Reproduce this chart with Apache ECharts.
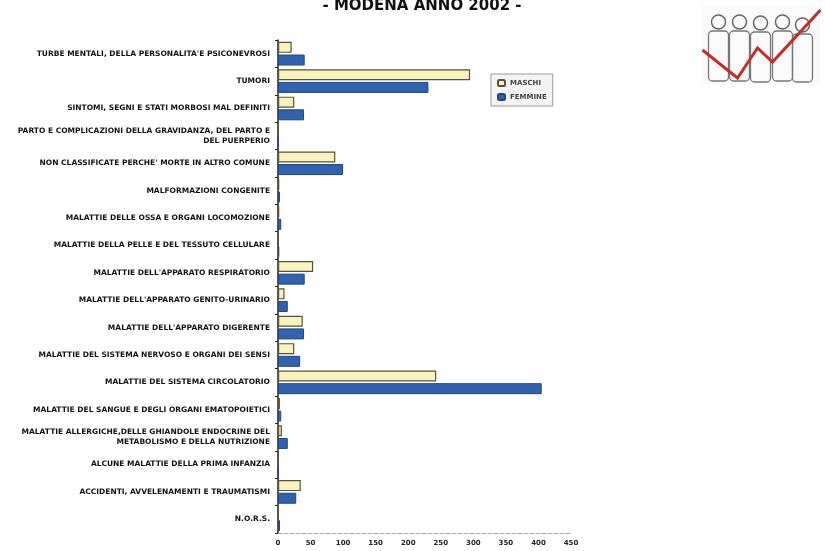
<!DOCTYPE html>
<html>
<head>
<meta charset="utf-8">
<script src="https://cdn.jsdelivr.net/npm/echarts@6/dist/echarts.min.js"></script>
<style>
  html, body { margin: 0; padding: 0; background: #fff; }
  #main { width: 825px; height: 551px; }
</style>
</head>
<body>
<div id="main"></div>
<script>
// categorie di causa (dall'alto verso il basso)
const categories = [
  "TURBE MENTALI, DELLA PERSONALITA'E PSICONEVROSI",
  "TUMORI",
  "SINTOMI, SEGNI E STATI MORBOSI MAL DEFINITI",
  "PARTO E COMPLICAZIONI DELLA GRAVIDANZA, DEL PARTO E\nDEL PUERPERIO",
  "NON CLASSIFICATE PERCHE' MORTE IN ALTRO COMUNE",
  "MALFORMAZIONI CONGENITE",
  "MALATTIE DELLE OSSA E ORGANI LOCOMOZIONE",
  "MALATTIE DELLA PELLE E DEL TESSUTO CELLULARE",
  "MALATTIE DELL'APPARATO RESPIRATORIO",
  "MALATTIE DELL'APPARATO GENITO-URINARIO",
  "MALATTIE DELL'APPARATO DIGERENTE",
  "MALATTIE DEL SISTEMA NERVOSO E ORGANI DEI SENSI",
  "MALATTIE DEL SISTEMA CIRCOLATORIO",
  "MALATTIE DEL SANGUE E DEGLI ORGANI EMATOPOIETICI",
  "MALATTIE ALLERGICHE,DELLE GHIANDOLE ENDOCRINE DEL\nMETABOLISMO E DELLA NUTRIZIONE",
  "ALCUNE MALATTIE DELLA PRIMA INFANZIA",
  "ACCIDENTI, AVVELENAMENTI E TRAUMATISMI",
  "N.O.R.S."
];
const maschi = [21, 295, 25, 0, 88, 2, 2, 1, 54, 10, 38, 25, 243, 3, 6, 1, 35, 1];
const femmine = [41, 231, 40, 0, 100, 3, 5, 2, 41, 15, 40, 34, 405, 5, 15, 1, 28, 3];
const xTicks = [0, 50, 100, 150, 200, 250, 300, 350, 400, 450];

const chart = echarts.init(document.getElementById("main"));
const option = {
  backgroundColor: "#fff",
  animation: false,
  title: {
    text: "- MODENA ANNO 2002 -",
    left: 417,
    top: -6,
    textAlign: "center",
    textStyle: { fontFamily: "DejaVu Sans", fontWeight: "bold", fontSize: 15, color: "#111" }
  },
  legend: {
    orient: "vertical",
    left: 491,
    top: 74,
    itemWidth: 7,
    itemHeight: 6,
    itemGap: 6,
    padding: [5, 6],
    borderColor: "#999",
    borderWidth: 1,
    backgroundColor: "#f4f4f4",
    textStyle: { fontSize: 7, fontWeight: "bold", color: "#444", fontFamily: "DejaVu Sans" },
    data: ["MASCHI", "FEMMINE"]
  },
  grid: { left: 278, right: 254, top: 40, bottom: 18 },
  xAxis: {
    type: "value",
    min: xTicks[0],
    max: xTicks[xTicks.length - 1],
    interval: 50,
    axisLine: { show: true, lineStyle: { color: "#aaa", type: "dashed" } },
    axisTick: { show: false },
    splitLine: { show: false },
    axisLabel: { fontSize: 7, fontWeight: "bold", color: "#222", margin: 7, fontFamily: "DejaVu Sans" }
  },
  yAxis: {
    type: "category",
    inverse: true,
    data: categories,
    axisLine: { show: true, lineStyle: { color: "#222", width: 1.5 } },
    axisTick: { show: true, length: 3, lineStyle: { color: "#222" } },
    axisLabel: {
      fontSize: 7.5,
      fontWeight: "bold",
      color: "#111",
      margin: 8,
      lineHeight: 10,
      align: "right",
      fontFamily: "DejaVu Sans"
    }
  },
  series: [
    {
      name: "MASCHI",
      type: "bar",
      data: maschi,
      barWidth: 11,
      barGap: "15%",
      itemStyle: { color: "#f7f3bf", borderColor: "#5a5236", borderWidth: 1.2 }
    },
    {
      name: "FEMMINE",
      type: "bar",
      data: femmine,
      barWidth: 11,
      barGap: "15%",
      itemStyle: { color: "#2f62b0", borderColor: "#24477a", borderWidth: 1 }
    }
  ],
  graphic: [
    {
      type: "group",
      left: 700,
      top: 6,
      children: [
        { type: "rect", shape: { x: 0, y: 0, width: 118, height: 78 }, style: { fill: "#fafafa" } },
        { type: "circle", shape: { cx: 16, cy: 16, r: 7 }, style: { fill: "none", stroke: "#666", lineWidth: 1.5 } },
        { type: "circle", shape: { cx: 37, cy: 16, r: 7 }, style: { fill: "none", stroke: "#666", lineWidth: 1.5 } },
        { type: "circle", shape: { cx: 58, cy: 17, r: 7 }, style: { fill: "none", stroke: "#666", lineWidth: 1.5 } },
        { type: "circle", shape: { cx: 80, cy: 16, r: 7 }, style: { fill: "none", stroke: "#666", lineWidth: 1.5 } },
        { type: "circle", shape: { cx: 100, cy: 19, r: 7 }, style: { fill: "none", stroke: "#666", lineWidth: 1.5 } },
        { type: "rect", shape: { x: 6, y: 25, width: 20, height: 50, r: 4 }, style: { fill: "none", stroke: "#777", lineWidth: 1.3 } },
        { type: "rect", shape: { x: 27, y: 25, width: 20, height: 50, r: 4 }, style: { fill: "none", stroke: "#777", lineWidth: 1.3 } },
        { type: "rect", shape: { x: 48, y: 26, width: 20, height: 50, r: 4 }, style: { fill: "none", stroke: "#777", lineWidth: 1.3 } },
        { type: "rect", shape: { x: 70, y: 25, width: 20, height: 50, r: 4 }, style: { fill: "none", stroke: "#777", lineWidth: 1.3 } },
        { type: "rect", shape: { x: 90, y: 28, width: 20, height: 48, r: 4 }, style: { fill: "none", stroke: "#777", lineWidth: 1.3 } },
        {
          type: "polyline",
          shape: { points: [[0, 44], [35, 72], [55, 42], [70, 56], [118, 4]] },
          style: { fill: "none", stroke: "#c0302a", lineWidth: 3 }
        }
      ]
    }
  ]
};
chart.setOption(option);
</script>
</body>
</html>
